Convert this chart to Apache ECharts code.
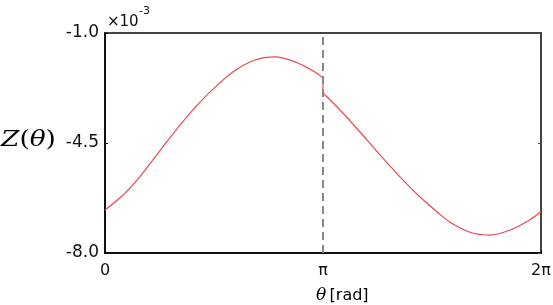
<!DOCTYPE html>
<html>
<head>
<meta charset="utf-8">
<script src="https://cdn.jsdelivr.net/npm/echarts@6/dist/echarts.min.js"></script>
<style>
  html, body { margin: 0; padding: 0; background: #fff; }
  #chart { width: 553px; height: 305px; }
</style>
</head>
<body>
<div id="chart"></div>
<script>
const PI = Math.PI
// theta [rad] and Z [x1e-3]
const leftTheta = [0, 0.25, 0.504, 0.793, 1.081, 1.369, 1.657, 1.873, 2.162, 2.450, 2.738, 3.026, PI]
const leftZ = [-6.63, -6.18, -5.57, -4.74, -3.93, -3.20, -2.58, -2.19, -1.86, -1.76, -1.92, -2.24, -2.43]
const rightTheta = [PI, 3.387, 3.675, 3.963, 4.251, 4.539, 4.828, 4.972, 5.260, 5.548, 5.837, 6.125, 2 * PI]
const rightZ = [-2.91, -3.45, -4.15, -4.88, -5.58, -6.22, -6.77, -7.02, -7.34, -7.43, -7.27, -6.94, -6.68]
const xTicks = [0, PI, 2 * PI]
const xTickLabels = ['0', 'π', '2π']
const yTicks = [-8.0, -4.5, -1.0]

const zip = (a, b) => a.map((v, i) => [v, b[i]])
const red = 'rgb(236, 72, 82)'
const font = '"DejaVu Sans", sans-serif'
const serif = '"DejaVu Serif", serif'

const myChart = echarts.init(document.getElementById('chart'))

const lineStyle = { color: red, width: 1.2 }

const option = {
  animation: false,
  grid: {
    left: 105,
    right: 12,
    top: 33,
    bottom: 52,
    outerBoundsMode: 'none',
    containLabel: false,
    show: true,
    borderColor: '#444',
    borderWidth: 2
  },
  xAxis: {
    type: 'value',
    min: 0,
    max: 2 * PI,
    axisLine: { show: true, lineStyle: { color: '#000', width: 1.5 } },
    axisTick: { show: true, inside: true, length: 3, customValues: xTicks, lineStyle: { color: '#000' } },
    axisLabel: {
      customValues: xTicks,
      formatter: v => xTickLabels[xTicks.findIndex(t => Math.abs(t - v) < 1e-6)],
      margin: 10,
      fontFamily: font,
      fontSize: 16,
      color: '#111'
    },
    splitLine: { show: false }
  },
  yAxis: [
    {
      type: 'value',
      min: -8,
      max: -1,
      axisLine: { show: true, lineStyle: { color: '#000', width: 1.5 } },
      axisTick: { show: true, inside: true, length: 3, customValues: yTicks, lineStyle: { color: '#000' } },
      axisLabel: {
        customValues: yTicks,
        formatter: v => v.toFixed(1),
        margin: 6,
        fontFamily: font,
        fontSize: 17,
        color: '#111'
      },
      splitLine: { show: false }
    },
    {
      type: 'value',
      position: 'right',
      min: -8,
      max: -1,
      axisLine: { show: false },
      axisTick: { show: true, inside: true, length: 3, customValues: yTicks, lineStyle: { color: '#444' } },
      axisLabel: { show: false },
      splitLine: { show: false }
    }
  ],
  graphic: [
    {
      type: 'text',
      left: 107,
      top: 15,
      style: { text: '×10', fontFamily: font, fontSize: 15, fill: '#111' }
    },
    {
      type: 'text',
      left: 139,
      top: 6,
      style: { text: '-3', fontFamily: font, fontSize: 11, fill: '#111' }
    },
    {
      type: 'text',
      left: 1,
      top: 129,
      scaleX: 1.15,
      style: {
        text: '{i|Z}{p|(}{i|θ}{p|)}',
        rich: {
          i: { fontFamily: serif, fontStyle: 'italic', fontSize: 23, color: '#111' },
          p: { fontFamily: serif, fontSize: 23, color: '#111' }
        }
      }
    },
    {
      type: 'text',
      left: 316,
      top: 287,
      style: {
        text: '{it|θ} {n|[rad]}',
        rich: {
          it: { fontFamily: serif, fontStyle: 'italic', fontSize: 17, color: '#111' },
          n: { fontFamily: font, fontSize: 16, color: '#111' }
        }
      }
    }
  ],
  series: [
    {
      type: 'line',
      data: zip(leftTheta, leftZ),
      smooth: 0.3,
      showSymbol: false,
      lineStyle,
      markLine: {
        silent: true,
        symbol: 'none',
        label: { show: false },
        lineStyle: { color: '#888', type: [8, 5], width: 2 },
        data: [{ xAxis: PI }]
      },
      z: 3
    },
    {
      type: 'line',
      data: [[PI, leftZ[leftZ.length - 1]], [PI, rightZ[0]]],
      showSymbol: false,
      lineStyle,
      z: 3
    },
    {
      type: 'line',
      data: zip(rightTheta, rightZ),
      smooth: 0.3,
      showSymbol: false,
      lineStyle,
      z: 3
    }
  ]
}

myChart.setOption(option)
</script>
</body>
</html>
